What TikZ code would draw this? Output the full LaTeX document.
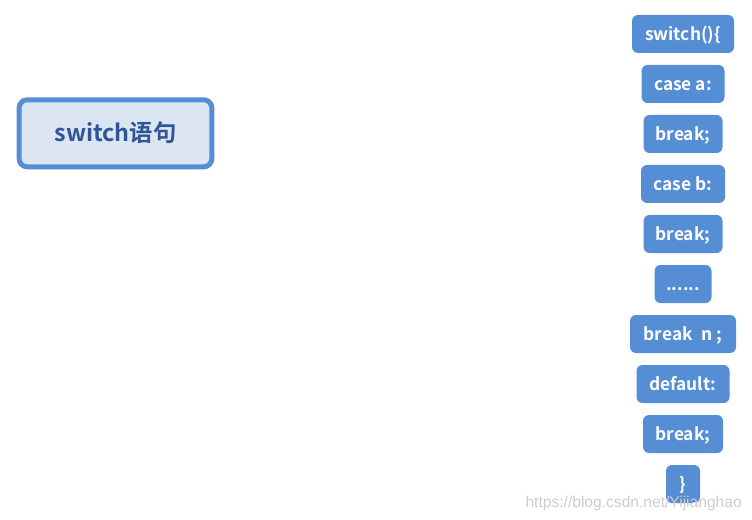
\documentclass[tikz,border=0pt]{standalone}
\usepackage{fontspec}
\setmainfont{Noto Sans CJK SC}[BoldFont={Noto Sans CJK SC Bold}]
\newfontfamily\wmfont{Liberation Sans}
\definecolor{boxblue}{RGB}{85,142,213}
\definecolor{lightfill}{RGB}{220,230,242}
\definecolor{darktext}{RGB}{47,85,151}
\tikzset{
  cbox/.style={draw=none, fill=boxblue, rounded corners=4.5pt, minimum height=28.5pt,
    inner sep=0pt, text=white, text height=9.5pt, text depth=0pt,
    font=\bfseries\fontsize{13}{15}\selectfont},
  mainbox/.style={draw=boxblue, line width=3.75pt, fill=lightfill, rounded corners=6pt,
    minimum width=144.5pt, minimum height=50.25pt, inner sep=0pt, text=darktext,
    text height=13pt, text depth=0pt,
    font=\bfseries\fontsize{17.5}{20}\selectfont},
  watermark/.style={text=gray!40, font=\wmfont\fontsize{11.7}{14}\selectfont, inner sep=0pt}
}
\begin{document}
\begin{tikzpicture}[x=0.75pt,y=-0.75pt]
\useasboundingbox (0,0) rectangle (752,520);
\node[mainbox] (main) at (115.5,133.3) {switch语句};
\node[cbox, minimum width=76.5pt] (s0) at (683,34) {switch()\{};
\node[cbox, minimum width=62.25pt] (s1) at (683,84) {case a:};
\node[cbox, minimum width=59.25pt] (s2) at (683,134) {break;};
\node[cbox, minimum width=63pt] (s3) at (683,184) {case b:};
\node[cbox, minimum width=59.25pt] (s4) at (683,234) {break;};
\node[cbox, minimum width=42.75pt] (s5) at (683,284) {......};
\node[cbox, minimum width=79.5pt] (s6) at (683,334) {break\enspace n ;};
\node[cbox, minimum width=69.75pt] (s7) at (683,384) {default:};
\node[cbox, minimum width=60pt] (s8) at (683,434) {break;};
\node[cbox, minimum width=25.5pt] (s9) at (683,484) {\}};
\node[watermark, anchor=base east] (wm) at (742,507) {https://blog.csdn.net/Yijianghao};
\end{tikzpicture}
\end{document}
